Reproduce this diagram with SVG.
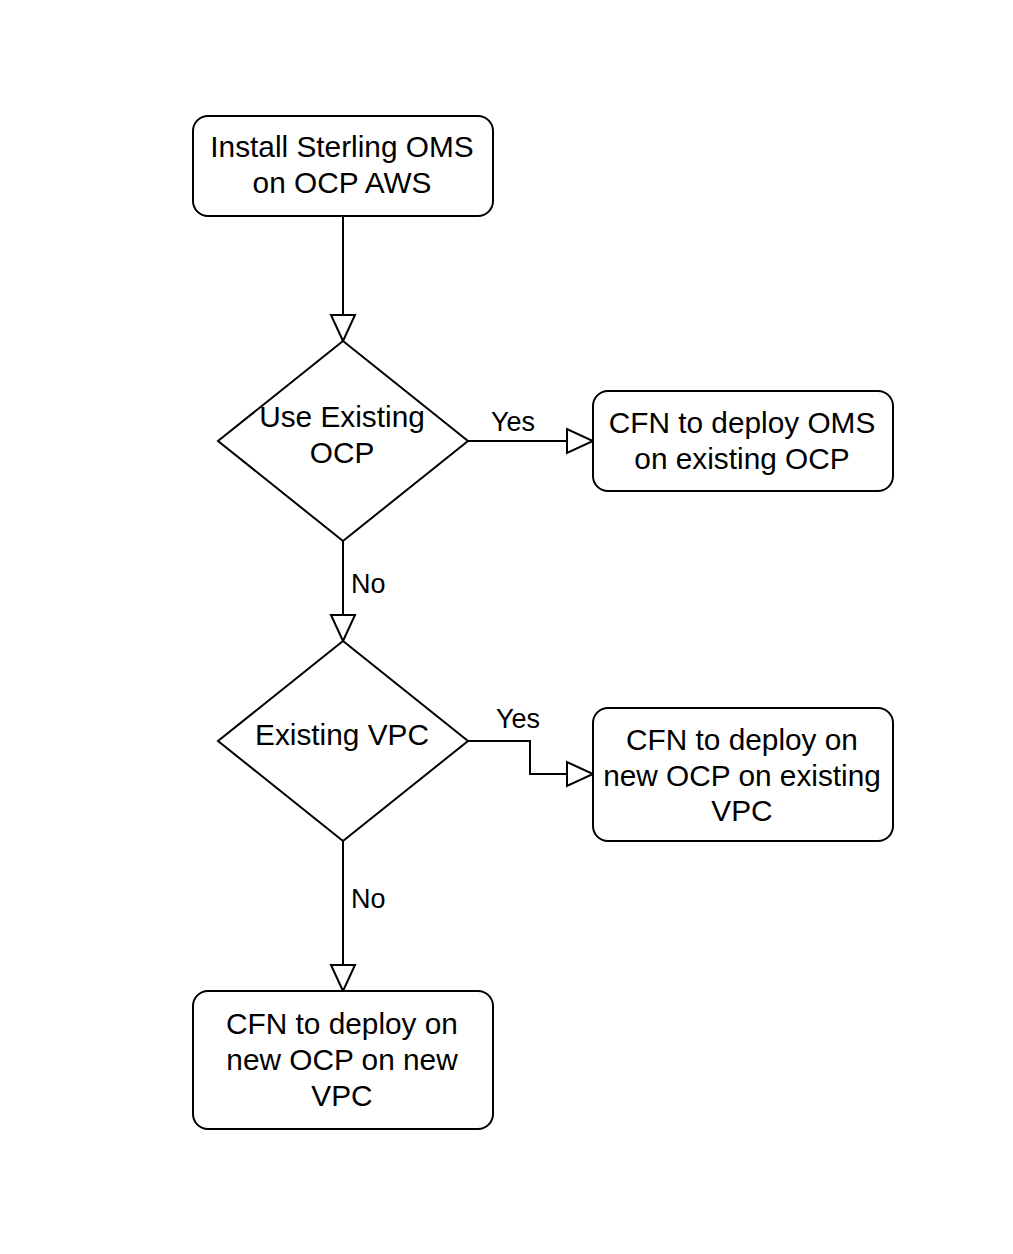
<svg xmlns="http://www.w3.org/2000/svg" width="1013" height="1254" viewBox="0 0 1013 1254">
<style>
.box{fill:#fff;stroke:#000;stroke-width:2}
.t{font-family:"Liberation Sans",Arial,sans-serif;font-size:29.8px;fill:#000;text-anchor:middle}
.lbl{font-family:"Liberation Sans",Arial,sans-serif;font-size:27px;fill:#000}
.edge{fill:none;stroke:#000;stroke-width:2}
.ah{fill:#fff;stroke:#000;stroke-width:2}
</style>
<rect width="1013" height="1254" fill="#fff"/>
<g id="connectors">
<path class="edge" d="M343 216 V315"/>
<polygon class="ah" points="331,315 355,315 343,341"/>
<path class="edge" d="M468 441 H567"/>
<polygon class="ah" points="567,429 567,453 593,441"/>
<text class="lbl" x="513" y="431" text-anchor="middle">Yes</text>
<path class="edge" d="M343 541 V615"/>
<polygon class="ah" points="331,615 355,615 343,641"/>
<text class="lbl" x="351" y="593">No</text>
<path class="edge" d="M468 741 H530 V774 H567"/>
<polygon class="ah" points="567,762 567,786 593,774"/>
<text class="lbl" x="518" y="728" text-anchor="middle">Yes</text>
<path class="edge" d="M343 841 V965"/>
<polygon class="ah" points="331,965 355,965 343,991"/>
<text class="lbl" x="351" y="908">No</text>
</g>
<g id="start">
<rect class="box" x="193" y="116" width="300" height="100" rx="15"/>
<text class="t" x="342" y="157">Install Sterling OMS</text>
<text class="t" x="342" y="193">on OCP AWS</text>
</g>
<g id="decision1">
<polygon class="box" points="343,341 468,441 343,541 218,441"/>
<text class="t" x="342" y="427">Use Existing</text>
<text class="t" x="342" y="463">OCP</text>
</g>
<g id="existingOcp">
<rect class="box" x="593" y="391" width="300" height="100" rx="15"/>
<text class="t" x="742" y="433">CFN to deploy OMS</text>
<text class="t" x="742" y="469">on existing OCP</text>
</g>
<g id="decision2">
<polygon class="box" points="343,641 468,741 343,841 218,741"/>
<text class="t" x="342" y="745">Existing VPC</text>
</g>
<g id="existingVpc">
<rect class="box" x="593" y="708" width="300" height="133" rx="15"/>
<text class="t" x="742" y="750">CFN to deploy on</text>
<text class="t" x="742" y="786">new OCP on existing</text>
<text class="t" x="742" y="821">VPC</text>
</g>
<g id="newVpc">
<rect class="box" x="193" y="991" width="300" height="138" rx="15"/>
<text class="t" x="342" y="1034">CFN to deploy on</text>
<text class="t" x="342" y="1070">new OCP on new</text>
<text class="t" x="342" y="1106">VPC</text>
</g>
</svg>
